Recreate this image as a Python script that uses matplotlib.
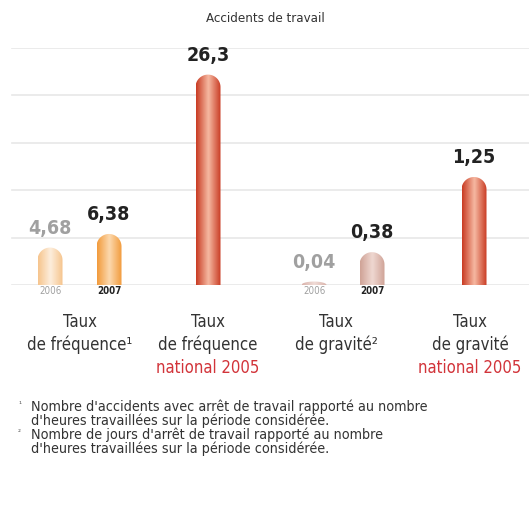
import numpy as np
import matplotlib
matplotlib.use("Agg")
import matplotlib.pyplot as plt
from matplotlib.path import Path
from matplotlib.patches import PathPatch
from matplotlib import transforms, font_manager
from matplotlib.colors import LinearSegmentedColormap

names = {f.name for f in font_manager.fontManager.ttflist}
narrow = [n for n in ('Liberation Sans Narrow', 'Arial Narrow') if n in names]
plt.rcParams['font.family'] = narrow + ['DejaVu Sans']
plt.rcParams['font.stretch'] = 'condensed'

# data
title = "Accidents de travail"
years = ["2006", "2007"]
freq_values = [4.68, 6.38]
freq_national = 26.3
grav_values = [0.04, 0.38]
grav_national = 1.25
cat_lines = [
    ["Taux", "de fréquence¹"],
    ["Taux", "de fréquence", "national 2005"],
    ["Taux", "de gravité²"],
    ["Taux", "de gravité", "national 2005"],
]
notes = [
    ("¹", "Nombre d'accidents avec arrêt de travail rapporté au nombre\nd'heures travaillées sur la période considérée."),
    ("²", "Nombre de jours d'arrêt de travail rapporté au nombre\nd'heures travaillées sur la période considérée."),
]

W, H = 529, 505
fig = plt.figure(figsize=(W / 100, H / 100), dpi=100)
base_px, top_px = 285, 48
ax = fig.add_axes([0, (H - base_px) / H, 1, (base_px - top_px) / H])
ax2 = ax.twinx()
ax.set_xlim(0, W)
ax2.set_xlim(0, W)
axis_px = base_px - top_px
ax.set_ylim(0, axis_px / 8.0)
ax2.set_ylim(0, axis_px / 86.4)
for a in (ax, ax2):
    a.axis('off')

# grid lines
for f in np.linspace(0, 1, 6):
    ax.plot([12, W], [f * ax.get_ylim()[1]] * 2, color='#e8e8e8', lw=1.2, zorder=0)


def rounded_bar(a, xc, h, width, edge, mid, ppu):
    rx = width / 2
    ry = min(rx / ppu, h)
    x0, x1 = xc - rx, xc + rx
    t = np.linspace(np.pi, 0, 40)
    verts = [(x0, 0), (x0, h - ry)]
    verts += list(zip(xc + rx * np.cos(t), h - ry + ry * np.sin(t)))
    verts += [(x1, 0), (x0, 0)]
    codes = [Path.MOVETO] + [Path.LINETO] * (len(verts) - 2) + [Path.CLOSEPOLY]
    patch = PathPatch(Path(verts, codes), facecolor='none', edgecolor='none')
    a.add_patch(patch)
    grad = np.linspace(0, 1, 256).reshape(1, -1)
    cmap = LinearSegmentedColormap.from_list('g', [edge, mid, edge], N=256)
    im = a.imshow(grad, extent=(x0, x1, 0, h), aspect='auto', cmap=cmap,
                  interpolation='bicubic', zorder=2)
    im.set_clip_path(patch)


def fmt(v):
    return str(v).replace('.', ',')


def value_label(a, xc, h, v, color):
    a.annotate(fmt(v), (xc, h), xytext=(0, 7), textcoords='offset points',
               ha='center', va='bottom', fontsize=14, fontweight='bold',
               color=color, zorder=5)


bw = 25
freq_x = [50, 109]
grav_x = [314, 372]
nat_x = [208, 474]
year_colors = ['#a0a0a0', '#222222']
freq_cols = [('#f6c48c', '#fdeedd'), ('#f29a3a', '#fcd9ae')]
grav_cols = [('#d9b2aa', '#f0dcd7'), ('#cfa296', '#efd8d1')]
red = ('#c83a22', '#f6b9a2')

for i in range(2):
    rounded_bar(ax, freq_x[i], freq_values[i], bw, *freq_cols[i], 8.0)
    value_label(ax, freq_x[i], freq_values[i], freq_values[i], year_colors[i])
    rounded_bar(ax2, grav_x[i], grav_values[i], bw, *grav_cols[i], 86.4)
    value_label(ax2, grav_x[i], grav_values[i], grav_values[i], year_colors[i])

rounded_bar(ax, nat_x[0], freq_national, bw, *red, 8.0)
value_label(ax, nat_x[0], freq_national, freq_national, '#222222')
rounded_bar(ax2, nat_x[1], grav_national, bw, *red, 86.4)
value_label(ax2, nat_x[1], grav_national, grav_national, '#222222')

bt = transforms.blended_transform_factory(ax.transData, fig.transFigure)


def fy(px):
    return 1 - px / H


for i in range(2):
    for xc in (freq_x[i], grav_x[i]):
        ax.text(xc, fy(291), years[i], transform=bt, ha='center', va='center',
                fontsize=7, color=year_colors[i],
                fontweight='bold' if i == 1 else 'normal')

cat_x = [80, 208, 336, 470]
line_y = [322, 345, 368]
for xc, lines in zip(cat_x, cat_lines):
    for j, s in enumerate(lines):
        ax.text(xc, fy(line_y[j]), s, transform=bt, ha='center', va='center',
                fontsize=12, color='#d2343a' if j == 2 else '#333333')

fig.text(265 / W, fy(19), title, ha='center', va='center', fontsize=9.5, color='#333333')

note_y = [400, 428]
for (mark, txt), y in zip(notes, note_y):
    fig.text(18 / W, fy(y + 4), mark, ha='left', va='center', fontsize=6, color='#555555')
    fig.text(31 / W, fy(y), txt, ha='left', va='top', fontsize=10.3,
             color='#333333', linespacing=0.95)

fig.savefig("out.png", dpi=100)
